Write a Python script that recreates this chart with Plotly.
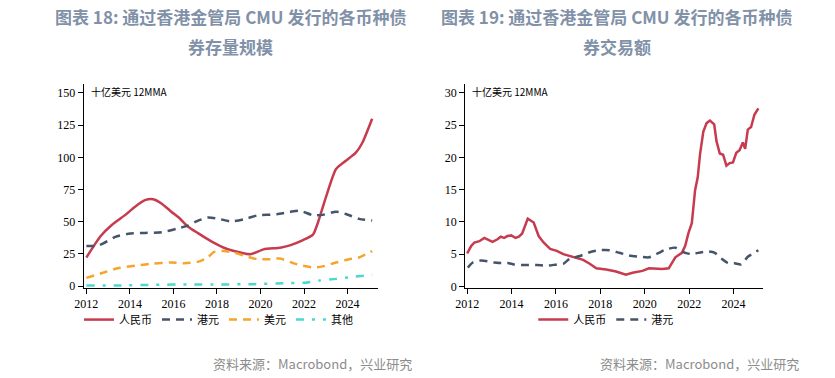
import plotly.graph_objects as go

# ---------- Chart 18: CMU bond outstanding by currency (bn USD, 12MMA) ----------
stock_rmb_x = [2012.0, 2012.65, 2013.18, 2013.79, 2014.24, 2014.69, 2015.07, 2015.45, 2015.9, 2016.28,
               2016.66, 2017.11, 2017.72, 2018.32, 2018.93, 2019.53, 2020.14, 2020.9, 2021.35, 2021.95,
               2022.41, 2022.63, 2023.01, 2023.47, 2023.92, 2024.38, 2024.68, 2025.13]
stock_rmb_y = [22.2, 38.7, 47.6, 55.3, 61.6, 66.7, 67.5, 64.2, 57.8, 52.7,
               46.3, 41.3, 34.9, 29.8, 26.7, 24.7, 28.5, 29.8, 31.6, 35.7,
               40.0, 48.9, 69.3, 90.9, 97.3, 103.6, 111.3, 129.9]

stock_hkd_x = [2012.0, 2012.57, 2013.33, 2013.93, 2014.69, 2015.45, 2016.2, 2016.66, 2017.11, 2017.57,
               2018.02, 2018.63, 2019.23, 2019.84, 2020.75, 2021.35, 2021.8, 2022.41, 2022.86, 2023.47,
               2023.92, 2024.53, 2025.13]
stock_hkd_y = [31.1, 31.6, 38.2, 40.7, 41.3, 41.8, 44.8, 46.9, 50.7, 53.2,
               52.5, 50.2, 51.9, 54.8, 55.8, 57.6, 58.6, 55.0, 55.3, 57.8,
               56.0, 52.2, 50.9]

stock_usd_x = [2012.0, 2012.73, 2013.48, 2014.24, 2015.0, 2015.9, 2016.5, 2017.11, 2017.57, 2017.87,
               2018.32, 2018.78, 2019.38, 2019.84, 2020.45, 2020.9, 2021.5, 2021.95, 2022.41, 2022.86,
               2023.47, 2024.07, 2024.53, 2025.13]
stock_usd_y = [6.4, 10.2, 14.0, 15.8, 17.3, 18.3, 17.8, 18.8, 22.2, 26.5,
               27.2, 26.0, 22.9, 20.9, 20.9, 21.4, 17.8, 15.8, 14.5, 15.3,
               18.3, 20.9, 22.2, 27.2]

stock_oth_x = [2012.0, 2013.63, 2015.15, 2016.66, 2018.17, 2019.7, 2021.2, 2021.95, 2022.7, 2023.47,
               2024.2, 2025.13]
stock_oth_y = [0.5, 0.5, 1.0, 1.3, 1.3, 1.5, 2.3, 2.5, 4.3, 5.6,
               7.1, 8.7]

# ---------- Chart 19: CMU bond turnover by currency (bn USD, 12MMA) ----------
trade_rmb_x = [2012.0, 2012.178, 2012.326, 2012.549, 2012.772, 2012.92, 2013.142, 2013.365, 2013.513,
               2013.662, 2013.81, 2013.988, 2014.181, 2014.329, 2014.478, 2014.73, 2014.997, 2015.22,
               2015.442, 2015.739, 2016.036, 2016.332, 2016.629, 2016.926, 2017.223, 2017.519, 2017.816,
               2018.261, 2018.706, 2019.151, 2019.448, 2019.893, 2020.19, 2020.783, 2021.08, 2021.377,
               2021.674, 2021.822, 2021.97, 2022.119, 2022.267, 2022.386, 2022.49, 2022.638, 2022.786,
               2022.935, 2023.128, 2023.231, 2023.38, 2023.528, 2023.677, 2023.825, 2023.973, 2024.122,
               2024.27, 2024.418, 2024.522, 2024.641, 2024.789, 2024.938, 2025.116]
trade_rmb_y = [5.1, 6.25, 6.8, 7.0, 7.5, 7.3, 6.9, 7.3, 7.7, 7.5, 7.8, 7.9, 7.5, 7.7, 8.2, 10.5,
               9.9, 7.8, 6.8, 5.8, 5.5, 5.0, 4.7, 4.3, 4.1, 3.5, 2.8, 2.6, 2.3, 1.8, 2.1, 2.4,
               2.8, 2.7, 2.8, 4.5, 5.2, 6.3, 8.3, 9.8, 14.9, 16.9, 20.5, 24.0, 25.3, 25.7, 25.1, 22.5,
               20.6, 20.4, 18.7, 19.1, 19.2, 20.7, 21.1, 22.3, 21.3, 24.3, 24.7, 26.6, 27.6]

trade_hkd_x = [2012.03, 2012.252, 2012.623, 2012.92, 2013.217, 2013.662, 2013.884, 2014.107, 2014.552,
               2015.145, 2015.591, 2016.036, 2016.332, 2016.629, 2017.074, 2017.519, 2017.964, 2018.409,
               2018.855, 2019.3, 2019.745, 2020.19, 2020.635, 2020.932, 2021.377, 2021.822, 2022.119,
               2022.564, 2022.861, 2023.157, 2023.454, 2023.751, 2024.047, 2024.344, 2024.641, 2024.938,
               2025.116]
trade_hkd_y = [2.9, 3.7, 4.0, 3.9, 3.7, 3.6, 3.6, 3.4, 3.3, 3.3, 3.2, 3.4, 3.5, 4.3, 4.7, 5.3,
               5.6, 5.6, 5.2, 4.8, 4.6, 4.5, 5.2, 5.7, 6.0, 5.2, 5.0, 5.3, 5.4, 5.2, 4.3, 3.6,
               3.6, 3.4, 4.6, 5.2, 5.6]

x_tickvals = [2012, 2014, 2016, 2018, 2020, 2022, 2024]
left_yticks = [0, 25, 50, 75, 100, 125, 150]
right_yticks = [0, 5, 10, 15, 20, 25, 30]

RED = "#c73b4f"
NAVY = "#44546a"
ORANGE = "#f5a42c"
CYAN = "#4ad8d0"

CJK = "Noto Sans CJK SC"
SERIF = "Liberation Serif"

fig = go.Figure()

fig.add_trace(go.Scatter(x=stock_rmb_x, y=stock_rmb_y, name="人民币", mode="lines",
                         line=dict(color=RED, width=2.5, shape="spline", smoothing=0.6),
                         xaxis="x", yaxis="y", legend="legend"))
fig.add_trace(go.Scatter(x=stock_hkd_x, y=stock_hkd_y, name="港元", mode="lines",
                         line=dict(color=NAVY, width=2.5, dash="8px,6px", shape="spline", smoothing=0.6),
                         xaxis="x", yaxis="y", legend="legend"))
fig.add_trace(go.Scatter(x=stock_usd_x, y=stock_usd_y, name="美元", mode="lines",
                         line=dict(color=ORANGE, width=2.5, dash="8px,6px", shape="spline", smoothing=0.6),
                         xaxis="x", yaxis="y", legend="legend"))
fig.add_trace(go.Scatter(x=stock_oth_x, y=stock_oth_y, name="其他", mode="lines",
                         line=dict(color=CYAN, width=2.5, dash="8px,8px,3px,8px", shape="spline", smoothing=0.6),
                         xaxis="x", yaxis="y", legend="legend"))

fig.add_trace(go.Scatter(x=trade_rmb_x, y=trade_rmb_y, name="人民币", mode="lines",
                         line=dict(color=RED, width=2.5),
                         xaxis="x2", yaxis="y2", legend="legend2"))
fig.add_trace(go.Scatter(x=trade_hkd_x, y=trade_hkd_y, name="港元", mode="lines",
                         line=dict(color=NAVY, width=2.5, dash="8px,6px", shape="spline", smoothing=0.6),
                         xaxis="x2", yaxis="y2", legend="legend2"))

W, H = 835, 378

def px(v):
    return v / W

def py(v):
    return 1 - v / H

axis_common = dict(showgrid=False, zeroline=False, showline=True, linecolor="#000000", linewidth=1,
                   ticks="outside", ticklen=5, tickcolor="#000000",
                   tickfont=dict(family=SERIF, size=12, color="#000000"))

legend_font = dict(family=CJK, size=11, color="#000000")

fig.update_layout(
    width=W, height=H,
    margin=dict(l=0, r=0, t=0, b=0),
    paper_bgcolor="white", plot_bgcolor="white",
    xaxis=dict(domain=[px(74.5), px(372)], range=[2011.873, 2025.377], tickvals=x_tickvals,
               anchor="y", **axis_common),
    yaxis=dict(domain=[py(292.5), py(85)], range=[-1.37, 157.2], tickvals=left_yticks,
               anchor="x", **axis_common),
    xaxis2=dict(domain=[px(460.7), px(762)], range=[2011.911, 2025.32], tickvals=x_tickvals,
                anchor="y2", **axis_common),
    yaxis2=dict(domain=[py(292.5), py(85)], range=[-0.23, 31.42], tickvals=right_yticks,
                anchor="x2", **axis_common),
    legend=dict(orientation="h", x=px(211), y=py(310), xanchor="center", yanchor="top",
                font=legend_font, itemwidth=30, bgcolor="rgba(0,0,0,0)"),
    legend2=dict(orientation="h", x=px(603), y=py(310), xanchor="center", yanchor="top",
                 font=legend_font, itemwidth=30, bgcolor="rgba(0,0,0,0)"),
    showlegend=True,
)

title_color = "#8191a8"
annotations = [
    dict(text="<b>图表 18: 通过香港金管局 CMU 发行的各币种债</b>", x=px(223), y=py(17)),
    dict(text="<b>券存量规模</b>", x=px(223), y=py(47)),
    dict(text="<b>图表 19: 通过香港金管局 CMU 发行的各币种债</b>", x=px(614), y=py(17)),
    dict(text="<b>券交易额</b>", x=px(614), y=py(47)),
]
for a in annotations:
    fig.add_annotation(xref="paper", yref="paper", x=a["x"], y=a["y"], text=a["text"],
                       showarrow=False, xanchor="center", yanchor="middle",
                       font=dict(family=CJK, size=17, color=title_color))

for xpos in (80, 466):
    fig.add_annotation(xref="paper", yref="paper", x=px(xpos), y=py(93), text="十亿美元 12MMA",
                       showarrow=False, xanchor="left", yanchor="middle",
                       font=dict(family=CJK, size=10, color="#000000"))

for xend in (409, 801):
    fig.add_annotation(xref="paper", yref="paper", x=px(xend), y=py(369),
                       text="资料来源：Macrobond，兴业研究",
                       showarrow=False, xanchor="right", yanchor="middle",
                       font=dict(family=CJK, size=13, color="#8c8c8c"))

fig.write_html("out.html", config={"displayModeBar": False},
               post_script="document.body.style.margin='0';document.body.style.overflow='hidden';")
